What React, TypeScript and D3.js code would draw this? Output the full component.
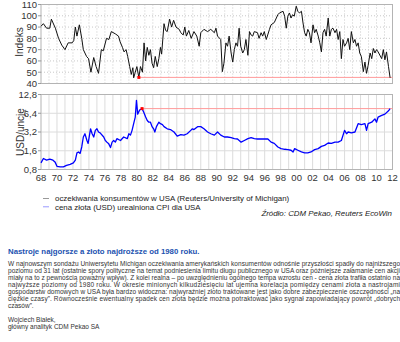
import React from "react";
import * as d3 from "d3";

// ---- data ----
const sentiment: [number, number][] = [
  [1968.0, 90.7], [1968.3, 93], [1968.7, 89], [1969.1, 89], [1969.3, 97], [1969.8, 89],
  [1970.2, 80], [1970.6, 74], [1971.0, 70], [1971.4, 76], [1971.9, 76], [1972.1, 78],
  [1972.3, 90], [1972.5, 82], [1972.8, 92], [1973.1, 80], [1973.3, 70], [1973.7, 64],
  [1973.95, 62], [1974.25, 50], [1974.6, 63], [1974.9, 55], [1975.2, 49], [1975.55, 70],
  [1975.8, 69], [1976.2, 80], [1976.5, 79], [1976.8, 86], [1977.3, 84], [1977.7, 82],
  [1977.9, 77], [1978.2, 72], [1978.4, 68], [1978.65, 70], [1978.85, 64], [1979.1, 55],
  [1979.3, 48], [1979.5, 54], [1979.6, 45], [1979.8, 50], [1980.0, 55], [1980.25, 45.4],
  [1980.45, 55], [1980.7, 50], [1980.9, 76], [1981.1, 60], [1981.3, 72], [1981.5, 65],
  [1981.7, 70], [1981.9, 58], [1982.1, 54], [1982.3, 64], [1982.55, 55], [1982.75, 62],
  [1982.95, 72], [1983.1, 66], [1983.4, 93], [1983.6, 87], [1983.8, 86], [1984.1, 97],
  [1984.35, 90], [1984.6, 96], [1984.9, 90], [1985.3, 88], [1985.5, 85], [1985.8, 83],
  [1986.0, 90], [1986.2, 82], [1986.5, 87], [1986.8, 80], [1987.15, 86], [1987.5, 82],
  [1987.8, 73], [1988.0, 85], [1988.4, 88], [1988.85, 86], [1989.25, 88], [1989.7, 85],
  [1989.9, 89], [1990.1, 82], [1990.5, 79], [1990.7, 50.5], [1990.9, 58], [1991.15, 76],
  [1991.35, 73], [1991.55, 82], [1991.8, 67], [1992.0, 59], [1992.2, 70], [1992.4, 76],
  [1992.6, 73], [1992.8, 89], [1993.0, 73], [1993.25, 67], [1993.45, 70], [1993.65, 79],
  [1993.9, 65], [1994.1, 86], [1994.3, 83], [1994.5, 82], [1994.7, 86], [1995.1, 85],
  [1995.3, 80], [1995.55, 85], [1995.75, 82], [1995.95, 86], [1996.2, 79], [1996.6, 88],
  [1996.8, 92], [1997.2, 94], [1997.65, 101], [1997.85, 102.5], [1998.3, 104], [1998.5, 99.6],
  [1998.7, 89], [1998.9, 99.6], [1999.1, 102.5], [1999.3, 98], [1999.5, 101], [1999.7, 99.6],
  [1999.95, 108.5], [2000.15, 104], [2000.35, 102.5], [2000.6, 104], [2000.8, 93.6],
  [2001.0, 85], [2001.2, 82], [2001.4, 88], [2001.6, 85], [2001.8, 76], [2002.05, 92],
  [2002.25, 85], [2002.45, 88], [2002.7, 82], [2002.9, 76], [2003.1, 68], [2003.3, 85],
  [2003.5, 88], [2003.7, 82], [2003.95, 98], [2004.15, 82], [2004.35, 88], [2004.55, 89],
  [2004.8, 85], [2005.0, 88], [2005.2, 79], [2005.4, 86], [2005.6, 62], [2005.8, 79],
  [2006.0, 73], [2006.25, 76], [2006.45, 80], [2006.65, 70], [2006.85, 86], [2007.1, 76],
  [2007.3, 79], [2007.5, 73], [2007.7, 76], [2007.9, 67], [2008.1, 64], [2008.35, 50.5],
  [2008.55, 59], [2008.75, 49], [2008.95, 56], [2009.2, 67], [2009.4, 62], [2009.6, 71],
  [2009.8, 67], [2010.0, 70], [2010.2, 68], [2010.65, 62], [2010.85, 70], [2011.05, 61],
  [2011.25, 68], [2011.5, 55], [2011.7, 45],
];

const gold: [number, number][] = [
  [1968.0, 1.02], [1968.3, 1.2], [1968.7, 1.13], [1969.1, 1.17], [1969.5, 1.13], [1969.75, 1.06],
  [1970.0, 0.9], [1970.4, 0.88], [1970.8, 0.88], [1971.2, 0.93], [1971.65, 0.97], [1972.05, 1.02],
  [1972.3, 1.13], [1972.5, 1.48], [1972.7, 1.53], [1972.9, 1.45], [1973.1, 1.84], [1973.3, 2.66],
  [1973.5, 3.0], [1973.75, 2.34], [1973.9, 2.1], [1974.2, 3.6], [1974.4, 3.0], [1974.6, 2.66],
  [1974.8, 3.4], [1975.0, 3.6], [1975.2, 3.2], [1975.4, 3.1], [1975.85, 2.66], [1976.05, 2.34],
  [1976.25, 2.2], [1976.45, 2.1], [1976.7, 1.8], [1976.9, 2.2], [1977.1, 2.34], [1977.3, 2.2],
  [1977.5, 2.5], [1977.95, 2.34], [1978.35, 2.66], [1978.8, 2.5], [1979.0, 3.0], [1979.2, 2.85],
  [1979.4, 3.4], [1979.6, 4.35], [1979.8, 5.56], [1979.95, 10.3], [1980.05, 7.5], [1980.1, 6.2],
  [1980.35, 7.2], [1980.65, 7.6], [1980.85, 6.7], [1981.1, 5.56], [1981.3, 4.9], [1981.5, 4.6],
  [1981.7, 4.6], [1981.9, 3.9], [1982.1, 3.6], [1982.25, 3.2], [1982.45, 3.9], [1982.75, 4.6],
  [1982.95, 4.35], [1983.2, 4.2], [1983.4, 3.9], [1983.8, 3.6], [1984.2, 3.5], [1984.65, 3.2],
  [1985.05, 2.75], [1985.5, 2.9], [1985.9, 2.85], [1986.3, 3.0], [1986.75, 3.4], [1986.95, 3.6],
  [1987.15, 3.5], [1987.6, 3.9], [1988.0, 3.9], [1988.4, 3.6], [1988.85, 3.2], [1989.25, 3.0],
  [1989.7, 2.85], [1990.1, 3.2], [1990.5, 2.85], [1990.95, 2.66], [1991.35, 2.66], [1991.8, 2.6],
  [1992.2, 2.5], [1992.6, 2.47], [1993.05, 2.2], [1993.45, 2.34], [1993.9, 2.5], [1994.3, 2.6],
  [1994.7, 2.5], [1995.1, 2.47], [1995.55, 2.47], [1995.95, 2.47], [1996.4, 2.47], [1996.8, 2.2],
  [1997.2, 2.1], [1997.65, 1.84], [1998.05, 1.73], [1998.5, 1.69], [1998.9, 1.67], [1999.3, 1.63],
  [1999.55, 1.53], [1999.75, 1.73], [2000.15, 1.63], [2000.6, 1.53], [2001.0, 1.48], [2001.4, 1.48],
  [2001.8, 1.53], [2002.25, 1.67], [2002.7, 1.73], [2003.1, 1.88], [2003.5, 1.95], [2003.95, 2.13],
  [2004.35, 2.1], [2004.8, 2.2], [2005.2, 2.2], [2005.6, 2.34], [2006.0, 3.4], [2006.25, 3.0],
  [2006.45, 3.2], [2006.85, 3.1], [2007.3, 3.2], [2007.7, 4.35], [2008.1, 4.2], [2008.55, 4.35],
  [2008.75, 3.4], [2008.95, 4.35], [2009.4, 4.6], [2009.8, 5.2], [2010.0, 4.6], [2010.2, 5.56],
  [2010.65, 5.9], [2011.05, 6.2], [2011.5, 7.0], [2011.7, 7.6],
];

const sentimentLow: [number, number] = [1980.25, 45.4];
const goldHigh: [number, number] = [1980.65, 7.6];

const topTicks = [40, 50, 60, 70, 80, 90, 100, 110];
const bottomTicks = [0.8, 1.6, 3.2, 6.4, 12.8];
const bottomTickLabels = ["0,8", "1,6", "3,2", "6,4", "12,8"];
const yearTicks = d3.range(1968, 2013, 2);
const yearTickLabels = yearTicks.map((y) => String(y % 100).padStart(2, "0"));
const yearGrid = d3.range(1969, 2012, 1);

const legendLabels = [
  "oczekiwania konsumentów w USA (Reuters/University of Michigan)",
  "cena złota (USD) urealniona CPI dla USA",
];
const sourceText = "Źródło: CDM Pekao, Reuters EcoWin";
const titleText = "Nastroje najgorsze a złoto najdroższe od 1980 roku.";
const paragraphLines = [
  "W najnowszym sondażu Uniwersytetu Michigan oczekiwania amerykańskich konsumentów odnośnie przyszłości spadły do najniższego",
  "poziomu od 31 lat (ostatnie spory polityczne na temat podniesienia limitu długu publicznego w USA oraz późniejsze załamanie cen akcji",
  "miały na to z pewnością poważny wpływ). Z kolei realna – po uwzględnieniu ogólnego tempa wzrostu cen - cena złota trafiła ostatnio na",
  "najwyższe poziomy od 1980 roku. W okresie minionych kilkudziesięciu lat ujemna korelacja pomiędzy cenami złota a nastrojami",
  "gospodarstw domowych w USA była bardzo widoczna: najwyraźniej złoto traktowane jest jako dobre zabezpieczenie oszczędności „na",
  "ciężkie czasy”. Równocześnie ewentualny spadek cen złota będzie można potraktować jako sygnał zapowiadający powrót „dobrych",
  "czasów”.",
];
const signatureLines = ["Wojciech Białek,", "główny analityk CDM Pekao SA"];

export default function App() {
  const L = 41, R = 392.5;
  const x = d3.scaleLinear().domain([1968, 2012]).range([L, R]);
  const yTop = d3.scaleLinear().domain([40, 110]).range([83.5, 4.5]);
  const yBot = d3.scaleLog().base(2).domain([0.8, 12.8]).range([169.5, 94.5]);

  const topLine = d3.line<[number, number]>().x((d) => x(d[0])).y((d) => yTop(d[1]))(sentiment) || "";
  const botLine = d3.line<[number, number]>().x((d) => x(d[0])).y((d) => yBot(d[1]))(gold) || "";

  const font = "'Liberation Sans', Arial, sans-serif";
  const axisColor = "#333";

  return (
    <svg width={400} height={342} style={{ position: "absolute", left: 0, top: 0, background: "#fff" }} fontFamily={font}>
      <rect x={0} y={0} width={400} height={342} fill="#fff" />
      {/* top panel grid */}
      {yearGrid.map((yr) => (
        <line key={"tv" + yr} x1={x(yr)} x2={x(yr)} y1={yTop(110)} y2={yTop(40)} stroke="#c8c8c8" strokeWidth={1} strokeDasharray="1,2" />
      ))}
      {topTicks.slice(1, -1).map((t) => (
        <line key={"th" + t} x1={L} x2={R} y1={yTop(t)} y2={yTop(t)} stroke="#c8c8c8" strokeWidth={1} strokeDasharray="1,2" />
      ))}
      {/* bottom panel grid */}
      {yearGrid.map((yr) => (
        <line key={"bv" + yr} x1={x(yr)} x2={x(yr)} y1={yBot(12.8)} y2={yBot(0.8)} stroke="#dcdcdc" strokeWidth={1} />
      ))}
      {bottomTicks.slice(1, -1).map((t) => (
        <line key={"bh" + t} x1={L} x2={R} y1={yBot(t)} y2={yBot(t)} stroke="#dcdcdc" strokeWidth={1} />
      ))}
      {/* frames */}
      <rect x={L} y={yTop(110)} width={R - L} height={yTop(40) - yTop(110)} fill="none" stroke="#b4b4b4" />
      <rect x={L} y={yBot(12.8)} width={R - L} height={yBot(0.8) - yBot(12.8)} fill="none" stroke="#b4b4b4" />

      {/* reference lines */}
      <line x1={x(sentimentLow[0])} x2={R} y1={yTop(sentimentLow[1])} y2={yTop(sentimentLow[1])} stroke="#ff9a9a" strokeWidth={1} />
      <line x1={x(goldHigh[0])} x2={R} y1={yBot(goldHigh[1])} y2={yBot(goldHigh[1])} stroke="#ff9a9a" strokeWidth={1} />

      {/* series */}
      <path d={topLine} fill="none" stroke="#111" strokeWidth={1} strokeLinejoin="round" />
      <path d={botLine} fill="none" stroke="#0000ff" strokeWidth={1.3} strokeLinejoin="round" />

      {/* markers */}
      <rect x={x(sentimentLow[0]) - 1.5} y={yTop(sentimentLow[1]) - 1.5} width={3} height={3} fill="#ff0000" />
      <rect x={x(goldHigh[0]) - 1.5} y={yBot(goldHigh[1]) - 1.5} width={3} height={3} fill="#ff0000" />

      {/* y axis top */}
      {topTicks.map((t) => (
        <g key={"tt" + t}>
          <line x1={L - 3} x2={L} y1={yTop(t)} y2={yTop(t)} stroke="#999" />
          <text x={L - 4} y={yTop(t)} dy="0.35em" textAnchor="end" fontSize={9.5} fill={axisColor}>{t}</text>
        </g>
      ))}
      {bottomTicks.map((t, i) => (
        <g key={"bt" + t}>
          <line x1={L - 3} x2={L} y1={yBot(t)} y2={yBot(t)} stroke="#999" />
          <text x={L - 4} y={yBot(t)} dy="0.35em" textAnchor="end" fontSize={9.5} fill={axisColor}>{bottomTickLabels[i]}</text>
        </g>
      ))}
      {yearTicks.map((yr, i) => (
        <text key={"xl" + yr} x={x(yr)} y={178} dy="0.35em" textAnchor="middle" fontSize={9.5} fill={axisColor}>{yearTickLabels[i]}</text>
      ))}
      <text transform={`translate(19,${(yTop(110) + yTop(40)) / 2 - 2}) rotate(-90)`} textAnchor="middle" dy="0.35em" fontSize={10} fill={axisColor}>Indeks</text>
      <text transform={`translate(20,${(yBot(12.8) + yBot(0.8)) / 2}) rotate(-90)`} textAnchor="middle" dy="0.35em" fontSize={10} fill={axisColor}>USD/uncję</text>

      {/* legend */}
      <line x1={43} x2={49} y1={198.5} y2={198.5} stroke="#999" strokeWidth={1} />
      <text x={55} y={198.5} dy="0.35em" fontSize={7.9} fill="#222">{legendLabels[0]}</text>
      <line x1={43} x2={49} y1={206.8} y2={206.8} stroke="#99f" strokeWidth={1} />
      <text x={55} y={206.8} dy="0.35em" fontSize={7.9} fill="#222">{legendLabels[1]}</text>
      <text x={392} y={213.5} dy="0.35em" textAnchor="end" fontSize={7.9} fontStyle="italic" fill="#222">{sourceText}</text>

      {/* article text */}
      <text x={8} y={251} dy="0.35em" fontSize={7.8} fontWeight="bold" fill="#2252b0">{titleText}</text>
      {paragraphLines.map((ln, i) => (
        <text key={"p" + i} x={8} y={264 + i * 7} dy="0.35em" fontSize={6.5} fill="#333"
          {...(i < paragraphLines.length - 1 ? { textLength: 392, lengthAdjust: "spacing" } : {})}>{ln}</text>
      ))}
      {signatureLines.map((ln, i) => (
        <text key={"s" + i} x={8} y={320 + i * 7} dy="0.35em" fontSize={6.5} fill="#333">{ln}</text>
      ))}
    </svg>
  );
}
